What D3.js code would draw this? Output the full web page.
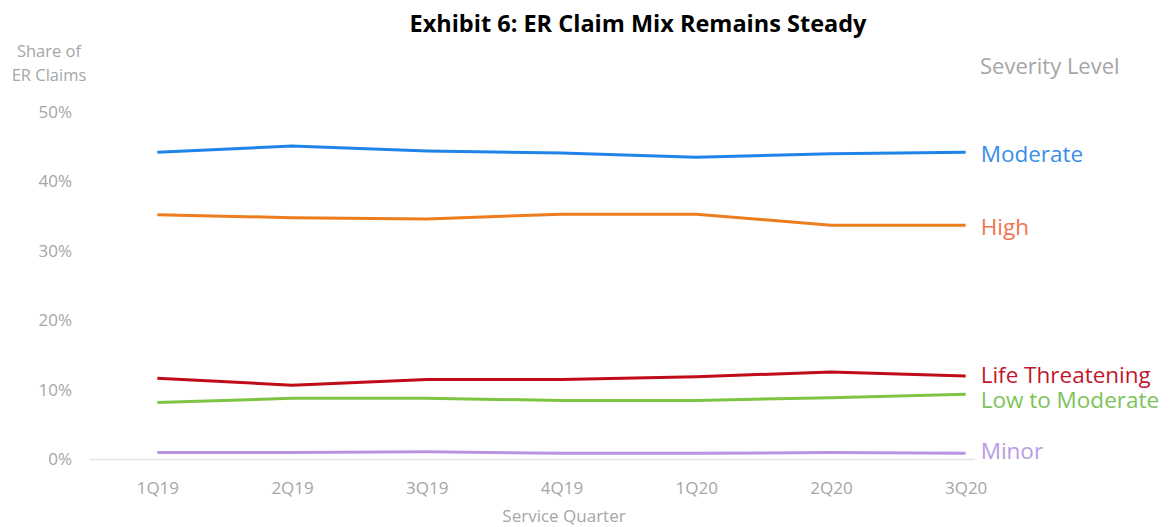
<!DOCTYPE html>
<html>
<head>
<meta charset="utf-8">
<script src="https://cdn.jsdelivr.net/npm/d3@7"></script>
<style>
  html, body { margin: 0; padding: 0; background: #fff; }
  svg { display: block; font-family: "Open Sans", Lato, sans-serif; }
</style>
</head>
<body>
<svg id="chart" width="1169" height="527"></svg>
<script>
// Quarters on the x axis
const quarters = ["1Q19", "2Q19", "3Q19", "4Q19", "1Q20", "2Q20", "3Q20"];

// Share of ER claims by severity level (%)
const moderate        = [44.2, 45.1, 44.4, 44.1, 43.5, 44.0, 44.2];
const high            = [35.2, 34.8, 34.6, 35.3, 35.3, 33.7, 33.7];
const lifeThreatening = [11.7, 10.7, 11.5, 11.5, 11.9, 12.6, 12.0];
const lowToModerate   = [8.2, 8.8, 8.8, 8.5, 8.5, 8.9, 9.4];
const minor           = [1.0, 1.0, 1.1, 0.9, 0.9, 1.0, 0.9];

const yTicks = [0, 10, 20, 30, 40, 50];

const series = [
  { name: "Moderate",         values: moderate,        line: "#1f84e8", label: "#3a8ee6", dy: 9.5 },
  { name: "High",             values: high,            line: "#ee7d1f", label: "#ef7450", dy: 9.5 },
  { name: "Life Threatening", values: lifeThreatening, line: "#c00c18", label: "#c0182c", dy: 6.5 },
  { name: "Low to Moderate",  values: lowToModerate,   line: "#7cc442", label: "#7cc35a", dy: 13.5 },
  { name: "Minor",            values: minor,           line: "#b894e2", label: "#b89ce2", dy: 6 }
];

const svg = d3.select("#chart");
const plot = { left: 90, right: 1033, top: 112, bottom: 459.5 };

const x = d3.scalePoint().domain(quarters).range([plot.left, plot.right]).padding(0.5);
const y = d3.scaleLinear().domain([0, 50]).range([plot.bottom, plot.top]);

const gray = "#a6a6a6";

// Title
svg.append("text")
  .attr("x", 638).attr("y", 32)
  .attr("text-anchor", "middle")
  .attr("font-weight", "bold")
  .attr("font-size", 23.5)
  .attr("fill", "#000")
  .text("Exhibit 6: ER Claim Mix Remains Steady");

// Y axis title
const yTitle = svg.append("text")
  .attr("text-anchor", "middle")
  .attr("font-size", 16.5)
  .attr("fill", gray);
yTitle.append("tspan").attr("x", 49).attr("y", 57).text("Share of");
yTitle.append("tspan").attr("x", 49).attr("y", 81).text("ER Claims");

// Y axis (labels only)
const yAxis = svg.append("g")
  .attr("transform", `translate(${plot.left},0)`)
  .call(d3.axisLeft(y).tickValues(yTicks).tickSize(0).tickPadding(18).tickFormat(d => d + "%"));
yAxis.select(".domain").remove();
yAxis.selectAll("text").attr("font-size", 17).attr("fill", gray).attr("font-family", "'Open Sans', sans-serif");

// X axis baseline and labels
const xAxis = svg.append("g")
  .attr("transform", `translate(0,${plot.bottom})`)
  .call(d3.axisBottom(x).tickSize(0).tickPadding(22));
xAxis.select(".domain").attr("stroke", "#e4e4e4").attr("stroke-width", 1.5)
  .attr("d", `M${plot.left},0H${plot.right - 58}`);
xAxis.selectAll("text").attr("font-size", 17).attr("fill", gray).attr("font-family", "'Open Sans', sans-serif");

// X axis title
svg.append("text")
  .attr("x", 564).attr("y", 522)
  .attr("text-anchor", "middle")
  .attr("font-size", 17)
  .attr("fill", gray)
  .text("Service Quarter");

// Lines
const line = d3.line().x((d, i) => x(quarters[i])).y(d => y(d));
svg.append("g").selectAll("path")
  .data(series)
  .join("path")
  .attr("d", d => line(d.values))
  .attr("fill", "none")
  .attr("stroke", d => d.line)
  .attr("stroke-width", 3)
  .attr("stroke-linejoin", "round");

// Legend heading
svg.append("text")
  .attr("x", 980).attr("y", 74)
  .attr("font-size", 22)
  .attr("fill", gray)
  .text("Severity Level");

// End labels
const last = quarters[quarters.length - 1];
svg.append("g").selectAll("text")
  .data(series)
  .join("text")
  .attr("x", x(last) + 15)
  .attr("y", d => y(d.values[d.values.length - 1]) + d.dy)
  .attr("font-size", 22.5)
  .attr("fill", d => d.label)
  .text(d => d.name);
</script>
</body>
</html>
